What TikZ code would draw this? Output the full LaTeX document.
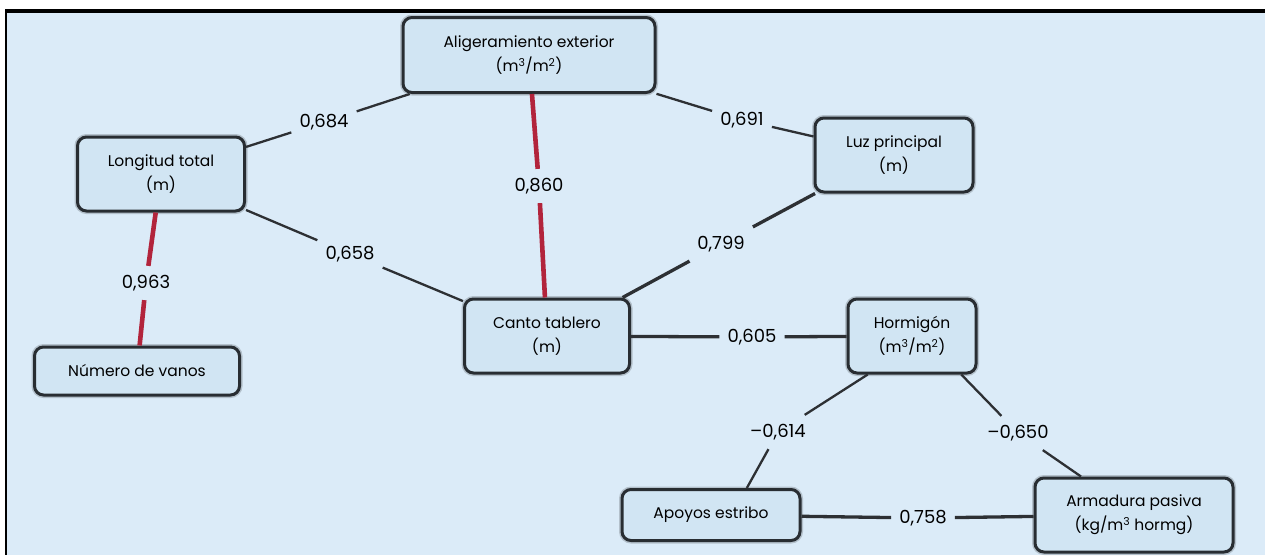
\documentclass[tikz,border=0pt]{standalone}
\usepackage{fontspec}
\setmainfont{Poppins}
\definecolor{bgblue}{RGB}{219,235,248}
\definecolor{boxblue}{RGB}{209,229,243}
\definecolor{boxline}{RGB}{40,45,50}
\definecolor{corred}{RGB}{178,36,60}
\definecolor{linegray}{RGB}{45,48,52}
\tikzset{
  box/.style={draw=boxline, line width=3pt, fill=boxblue, rounded corners=9pt,
    align=center, text=black, font=\fontsize{15.5}{24}\selectfont, inner sep=0pt,
    preaction={draw=black, line width=6pt, opacity=0.18}},
  val/.style={font=\fontsize{18}{20}\selectfont, text=black, inner xsep=8pt, inner ysep=9pt},
  blk/.style={draw=linegray, line width=2.3pt},
  blkthick/.style={draw=linegray, line width=3.3pt},
  redl/.style={draw=corred, line width=4.6pt}
}
\begin{document}
\begin{tikzpicture}[x=1pt,y=-1pt]
\useasboundingbox (0,0) rectangle (1265,555);
\fill[white] (0,0) rectangle (1265,555);
\fill[bgblue] (6,10) rectangle (1265,555);
\draw[black, line width=4pt] (5,10.5) -- (1265,10.5);
\draw[black, line width=1.5pt] (6,9) -- (6,555);

% nodes
\node[box, minimum width=252pt, minimum height=75pt] (alig) at (529,55) {Aligeramiento exterior\\(m\textsuperscript{3}/m\textsuperscript{2})};
\node[box, minimum width=167pt, minimum height=74pt] (long) at (161,174) {Longitud total\\(m)};
\node[box, minimum width=158pt, minimum height=74pt] (luz) at (894,155) {Luz principal\\(m)};
\node[box, minimum width=205pt, minimum height=48pt] (num) at (137,371) {Número de vanos};
\node[box, minimum width=165pt, minimum height=74pt] (canto) at (547,336) {Canto tablero\\(m)};
\node[box, minimum width=128pt, minimum height=74pt] (horm) at (912,336) {Hormigón\\(m\textsuperscript{3}/m\textsuperscript{2})};
\node[box, minimum width=198pt, minimum height=74pt] (arm) at (1134,515) {Armadura pasiva\\(kg/m\textsuperscript{3} hormg)};
\node[box, minimum width=178pt, minimum height=51pt] (apo) at (711,515) {Apoyos estribo};

% labels
\node[val] (l684) at (324,122) {0,684};
\node[val] (l691) at (742,120) {0,691};
\node[val] (l860) at (539,186) {0,860};
\node[val] (l963) at (146,283) {0,963};
\node[val] (l658) at (350,254) {0,658};
\node[val] (l799) at (721,244) {0,799};
\node[val] (l605) at (752,337) {0,605};
\node[val] (l614) at (778,432) {–0,614};
\node[val] (l650) at (1018,433) {–0,650};
\node[val] (l758) at (923,518) {0,758};

% connectors
\draw[blk] (long) -- (l684);
\draw[blk] (l684) -- (alig);
\draw[blk] (alig) -- (l691);
\draw[blk] (l691) -- (luz);
\draw[redl] (alig) -- (l860);
\draw[redl] (l860) -- (canto);
\draw[redl] (long) -- (l963);
\draw[redl] (l963) -- (num);
\draw[blk] (long) -- (l658);
\draw[blk] (l658) -- (canto);
\draw[blkthick] (canto.27) -- (l799);
\draw[blkthick] (l799) -- (luz.206);
\draw[blkthick] (canto) -- (l605);
\draw[blkthick] (l605) -- (horm);
\draw[blk] (horm.221) -- (l614);
\draw[blk] (l614) -- (apo.37);
\draw[blk] (horm.-38) -- (l650);
\draw[blk] (l650) -- (arm.144);
\draw[blkthick] (apo) -- (l758);
\draw[blkthick] (l758) -- (arm);
\end{tikzpicture}
\end{document}
